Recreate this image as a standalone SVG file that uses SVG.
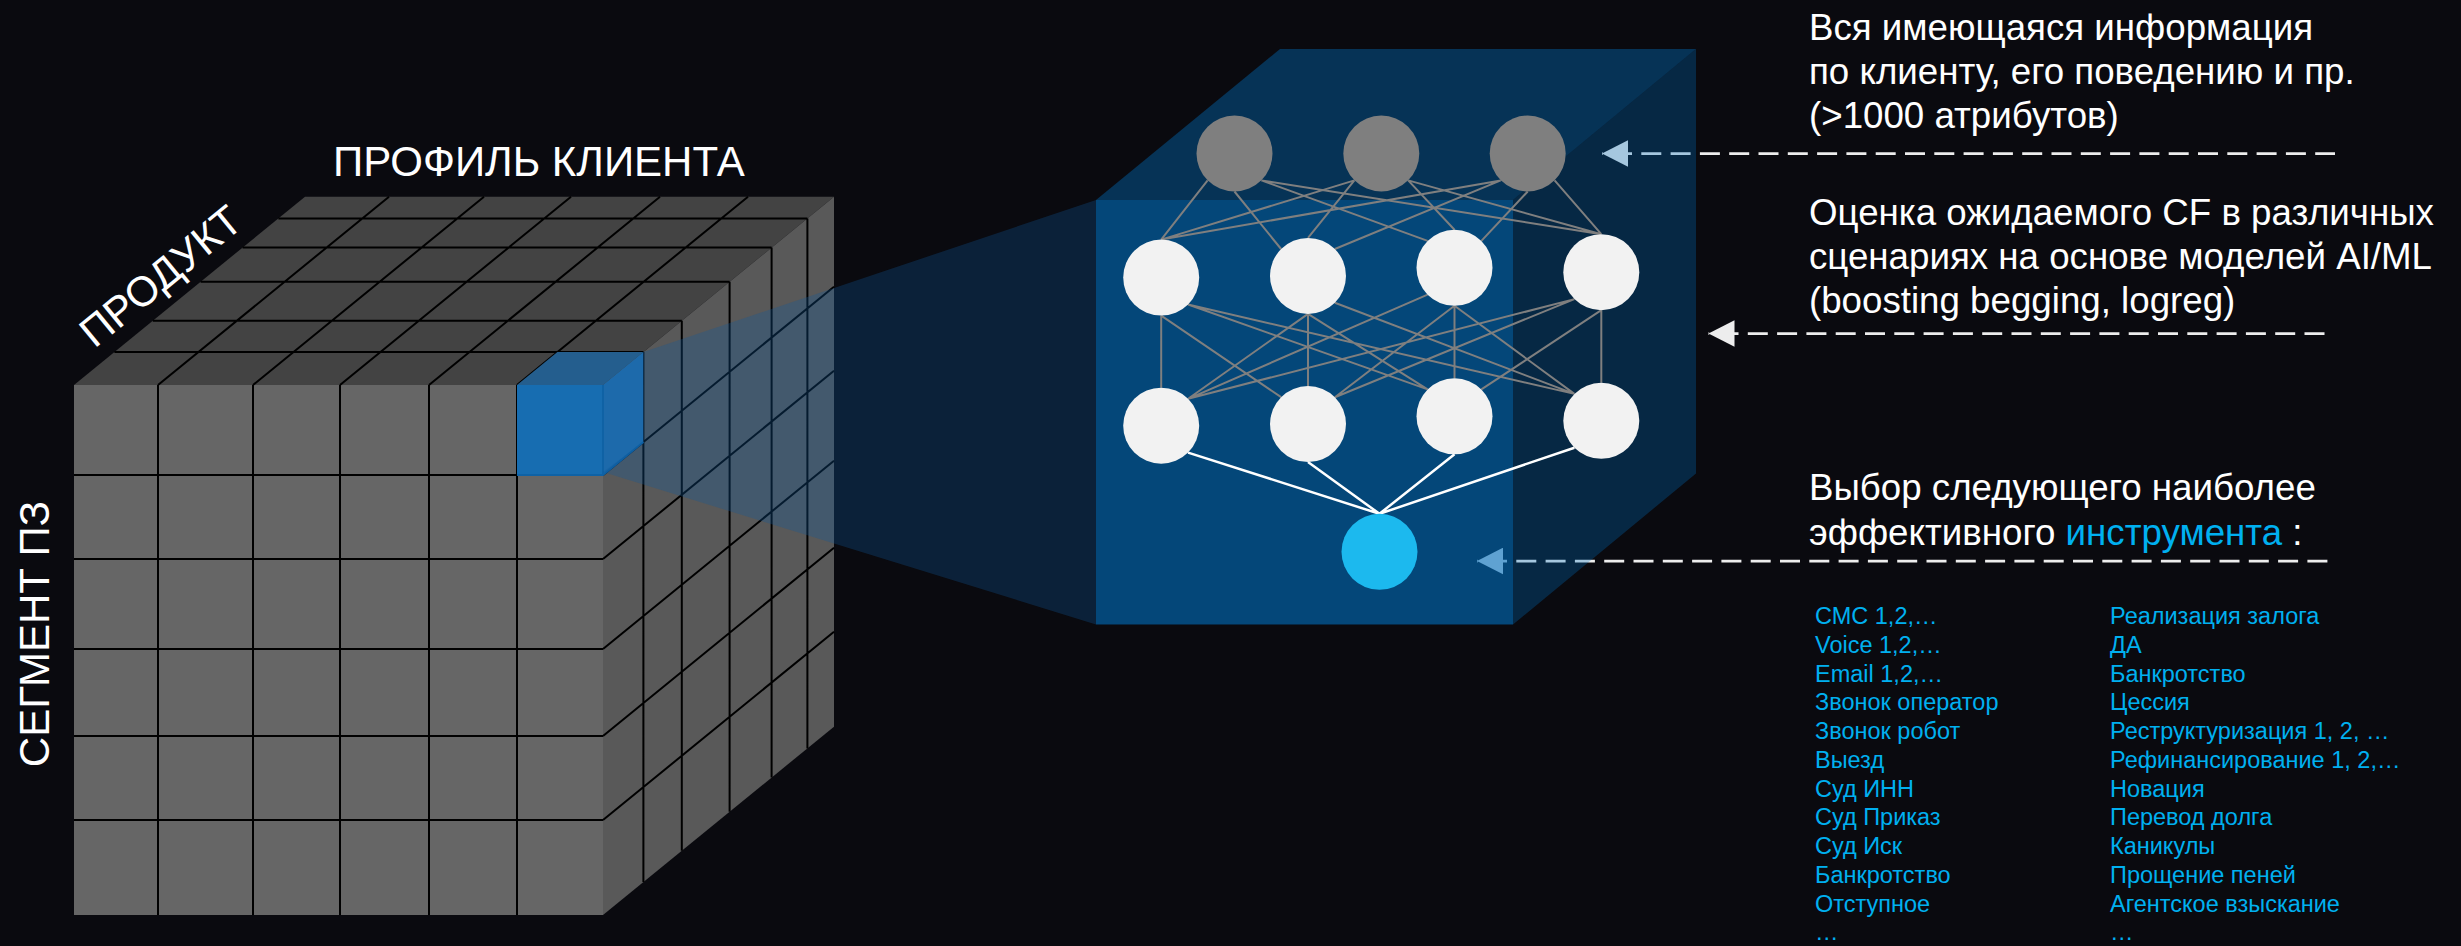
<svg xmlns="http://www.w3.org/2000/svg" width="2461" height="946" viewBox="0 0 2461 946">
<defs>
<style>
.bg{fill:#0A0A0F}
.grid{stroke:#000;stroke-width:2;fill:none}
.lbl{font-family:"Liberation Sans",Arial,sans-serif;fill:#FFFFFF}
.big{font-size:42px}
.desc{font-size:36.7px}
.list{font-family:"Liberation Sans",Arial,sans-serif;font-size:23.5px;fill:#00B0F0}
.hl{fill:#00B0F0}
.dash{stroke:#EDEDED;stroke-width:2.75;stroke-dasharray:20 9.3;stroke-dashoffset:19.3;fill:none}
.box{fill:#0070C0}
.glink{stroke:#7F7F7F;stroke-width:2;fill:none}
.wlink{stroke:#FFFFFF;stroke-width:2.5;fill:none}
.gnode{fill:#7F7F7F}
.wnode{fill:#F2F2F2}
.onode{fill:#1CB9EE}
</style>
<marker id="ah" markerUnits="userSpaceOnUse" markerWidth="28" markerHeight="28" refX="0" refY="13.5" orient="0">
<path d="M0,13.5 L26,0.2 L26,26.8 Z" fill="#EDEDED"/>
</marker>
</defs>
<rect class="bg" x="0" y="0" width="2461" height="946"/>

<g id="cube">
<rect x="74" y="385" width="529" height="530" fill="#666666"/>
<polygon points="74,385 305,196.7 834,196.7 603,385" fill="#434343"/>
<polygon points="603,385 834,196.7 834,726.7 603,915" fill="#595959"/>
<path class="grid" d="M158,385V915M253,385V915M340,385V915M429,385V915M517,385V915
M74,475H603M74,559H603M74,649H603M74,736H603M74,820H603
M158,385L389,196.7M253,385L484,196.7M340,385L571,196.7M429,385L660,196.7M517,385L748,196.7
M114.4,352H643.4M152.8,320.8H681.8M200.6,281.8H729.6M242.6,247.5H771.6M278.4,218.4H807.4
M643.4,352V882M681.8,320.8V850.8M729.6,281.8V811.8M771.6,247.5V777.5M807.4,218.4V748.4
M603,475L834,286.7M603,559L834,370.7M603,649L834,460.7M603,736L834,547.7M603,820L834,631.7"/>
</g>

<g id="selected-cell">
<rect x="517" y="385" width="86" height="90" fill="#176DB1"/>
<polygon points="517,385 557.4,352 643.4,352 603,385" fill="#245E8E"/>
<polygon points="603,385 643.4,352 643.4,442 603,475" fill="#1D6AAB"/>
<path d="M517,475H603L643.4,442M603,385V475" stroke="#0F62A5" stroke-width="2" fill="none"/>
</g>

<g id="projection">
<polygon points="643.4,352 1096,200 1096,624.5 603,472 643.4,442" fill="#0F5A9A" fill-opacity="0.3"/>
</g>

<g id="connectors">
<line class="dash" x1="1602" y1="153.5" x2="2335" y2="153.5" marker-start="url(#ah)"/>
<line class="dash" x1="1708.5" y1="333.5" x2="2328" y2="333.5" marker-start="url(#ah)"/>
<line class="dash" x1="1477" y1="561" x2="2330" y2="561" marker-start="url(#ah)"/>
</g>

<g id="model-box">
<polygon class="box" points="1096,200 1280,49 1696,49 1513,200" fill-opacity="0.4"/>
<polygon class="box" points="1513,200 1696,49 1696,473.5 1513,624.5" fill-opacity="0.3"/>
<rect class="box" x="1096" y="200" width="417" height="424.5" fill-opacity="0.6"/>
</g>

<g id="nn-links">
<path class="glink" d="M1207.6,180.4L1161.2,239.6M1234.5,191.5L1281.1,249M1261.4,180.4L1427.6,240.9M1261.4,180.4L1601.3,234.2
M1354.4,180.4L1161.2,239.6M1354.4,180.4L1308,237.9M1408.2,180.4L1454.5,229.8M1408.2,180.4L1601.3,234.2
M1500.8,180.4L1161.2,239.6M1500.8,180.4L1334.9,249M1527.7,191.5L1481.4,240.9M1554.6,180.4L1601.3,234.2
M1161.2,315.6L1161.2,387.7M1161.2,315.6L1281.1,397.2M1188.1,304.5L1427.6,389.4M1188.1,304.5L1574.4,393.9
M1308,313.9L1308,386.1M1308,313.9L1188.1,398.8M1308,313.9L1427.6,389.4M1334.9,302.8L1574.4,393.9
M1454.5,305.8L1454.5,378.3M1454.5,305.8L1334.9,397.2M1427.6,294.7L1188.1,398.8M1454.5,305.8L1574.4,393.9
M1601.3,310.2L1601.3,382.8M1574.4,299.1L1188.1,398.8M1574.4,299.1L1334.9,397.2M1601.3,310.2L1481.4,389.4"/>
<path class="wlink" d="M1188.1,452.6L1379.5,513.8M1308,462.1L1379.5,513.8M1454.5,454.3L1379.5,513.8M1574.4,447.7L1379.5,513.8"/>
</g>

<g id="input-layer">
<circle id="in-1" class="gnode" cx="1234.5" cy="153.5" r="38"/>
<circle id="in-2" class="gnode" cx="1381.3" cy="153.5" r="38"/>
<circle id="in-3" class="gnode" cx="1527.7" cy="153.5" r="38"/>
</g>
<g id="hidden-layer-1">
<circle id="h1-1" class="wnode" cx="1161.2" cy="277.6" r="38"/>
<circle id="h1-2" class="wnode" cx="1308" cy="275.9" r="38"/>
<circle id="h1-3" class="wnode" cx="1454.5" cy="267.8" r="38"/>
<circle id="h1-4" class="wnode" cx="1601.3" cy="272.2" r="38"/>
</g>
<g id="hidden-layer-2">
<circle id="h2-1" class="wnode" cx="1161.2" cy="425.7" r="38"/>
<circle id="h2-2" class="wnode" cx="1308" cy="424.1" r="38"/>
<circle id="h2-3" class="wnode" cx="1454.5" cy="416.3" r="38"/>
<circle id="h2-4" class="wnode" cx="1601.3" cy="420.8" r="38"/>
</g>
<g id="output-node">
<circle class="onode" cx="1379.5" cy="551.8" r="38"/>
</g>

<g id="axis-labels">
<text class="lbl big" x="333" y="176">ПРОФИЛЬ КЛИЕНТА</text>
<text class="lbl big" text-anchor="middle" transform="translate(169.8,287.3) rotate(-39.4)">ПРОДУКТ</text>
<text class="lbl big" text-anchor="middle" transform="translate(49,634) rotate(-90)">СЕГМЕНТ ПЗ</text>
</g>

<g id="text-input">
<text class="lbl desc" x="1809" y="39.5">Вся имеющаяся информация</text>
<text class="lbl desc" x="1809" y="83.5">по клиенту, его поведению и пр.</text>
<text class="lbl desc" x="1809" y="127.5">(&gt;1000 атрибутов)</text>
</g>
<g id="text-model">
<text class="lbl desc" x="1809" y="225">Оценка ожидаемого CF в различных</text>
<text class="lbl desc" x="1809" y="269">сценариях на основе моделей AI/ML</text>
<text class="lbl desc" x="1809" y="313">(boosting begging, logreg)</text>
</g>
<g id="text-output">
<text class="lbl desc" x="1809" y="499.5">Выбор следующего наиболее</text>
<text class="lbl desc" x="1809" y="545">эффективного <tspan class="hl">инструмента</tspan> :</text>
</g>

<g id="tools-list-1">
<text class="list" x="1815" y="624">СМС 1,2,…</text>
<text class="list" x="1815" y="652.75">Voice 1,2,…</text>
<text class="list" x="1815" y="681.5">Email 1,2,…</text>
<text class="list" x="1815" y="710.25">Звонок оператор</text>
<text class="list" x="1815" y="739">Звонок робот</text>
<text class="list" x="1815" y="767.75">Выезд</text>
<text class="list" x="1815" y="796.5">Суд ИНН</text>
<text class="list" x="1815" y="825.25">Суд Приказ</text>
<text class="list" x="1815" y="854">Суд Иск</text>
<text class="list" x="1815" y="882.75">Банкротство</text>
<text class="list" x="1815" y="911.5">Отступное</text>
<text class="list" x="1815" y="940.25">…</text>
</g>
<g id="tools-list-2">
<text class="list" x="2110" y="624">Реализация залога</text>
<text class="list" x="2110" y="652.75">ДА</text>
<text class="list" x="2110" y="681.5">Банкротство</text>
<text class="list" x="2110" y="710.25">Цессия</text>
<text class="list" x="2110" y="739">Реструктуризация 1, 2, …</text>
<text class="list" x="2110" y="767.75">Рефинансирование 1, 2,…</text>
<text class="list" x="2110" y="796.5">Новация</text>
<text class="list" x="2110" y="825.25">Перевод долга</text>
<text class="list" x="2110" y="854">Каникулы</text>
<text class="list" x="2110" y="882.75">Прощение пеней</text>
<text class="list" x="2110" y="911.5">Агентское взыскание</text>
<text class="list" x="2110" y="940.25">…</text>
</g>
</svg>
